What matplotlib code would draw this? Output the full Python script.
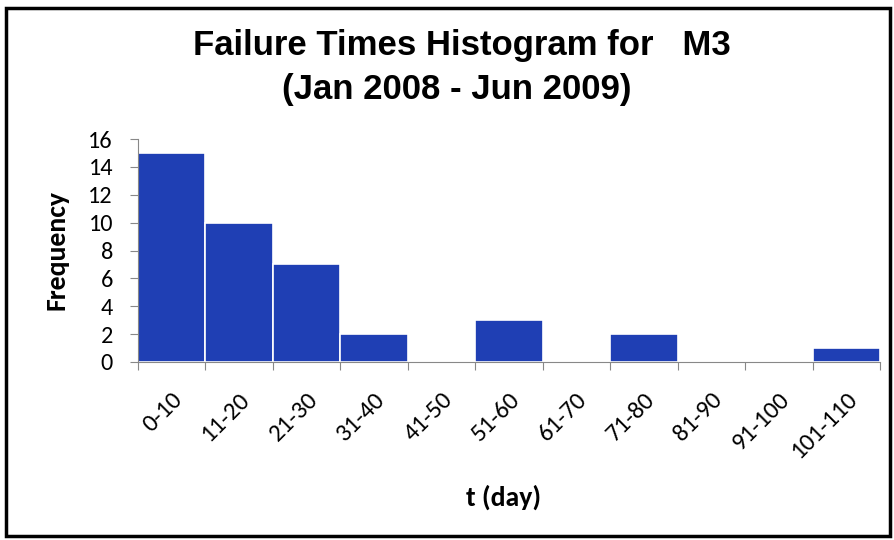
import matplotlib
matplotlib.use("Agg")
import matplotlib.pyplot as plt
from matplotlib.patches import Rectangle

categories = ["0-10", "11-20", "21-30", "31-40", "41-50", "51-60",
              "61-70", "71-80", "81-90", "91-100", "101-110"]
frequency = [15, 10, 7, 2, 0, 3, 0, 2, 0, 0, 1]
y_ticks = [0, 2, 4, 6, 8, 10, 12, 14, 16]

plt.rcParams["font.family"] = ["Liberation Sans", "DejaVu Sans"]

fig = plt.figure(figsize=(8.94, 5.40), dpi=100)
ax = fig.add_axes([138 / 894, 1 - 362 / 540, 742 / 894, 223 / 540])

x = list(range(len(categories)))
ax.bar(x, frequency, width=1.0, color="#1f3fb4", edgecolor="white",
       linewidth=1.2, align="center")

ax.set_xlim(-0.5, len(categories) - 0.5)
ax.set_ylim(0, 16)
ax.set_yticks(y_ticks)
ax.set_yticklabels([str(v) for v in y_ticks], fontsize=17.5, family="Carlito")

# ticks at category boundaries, labels centred on each bar
ax.set_xticks([i - 0.5 for i in range(len(categories) + 1)])
ax.set_xticklabels([])
ax.set_xticks(x, minor=True)
ax.set_xticklabels(categories, minor=True, rotation=45, ha="right",
                   rotation_mode="anchor", fontsize=18, family="Carlito")
ax.tick_params(axis="x", which="minor", length=0, pad=19)
ax.tick_params(axis="x", which="major", length=6, color="#888888", direction="out")
ax.tick_params(axis="y", length=6, color="#888888", direction="out", pad=12)

for side in ("top", "right"):
    ax.spines[side].set_visible(False)
for side in ("left", "bottom"):
    ax.spines[side].set_color("#888888")
    ax.spines[side].set_linewidth(0.8)

ax.set_ylabel("Frequency", fontsize=20, fontweight="bold", family="Carlito",
              labelpad=14)
fig.text(504 / 894, 1 - 497 / 540, "t (day)", fontsize=20, fontweight="bold",
         family="Carlito", ha="center", va="center")

fig.text(462 / 894, 1 - 45 / 540, "Failure Times Histogram for   M3",
         fontsize=25, fontweight="bold", ha="center", va="center")
fig.text(457 / 894, 1 - 90 / 540, "(Jan 2008 - Jun 2009)",
         fontsize=25, fontweight="bold", ha="center", va="center")

# outer chart frame
fig.patches.append(Rectangle((6 / 894, 4 / 540), 884 / 894, 528 / 540,
                             transform=fig.transFigure, fill=False,
                             edgecolor="black", linewidth=2.5))

fig.savefig("out.png", dpi=100)
